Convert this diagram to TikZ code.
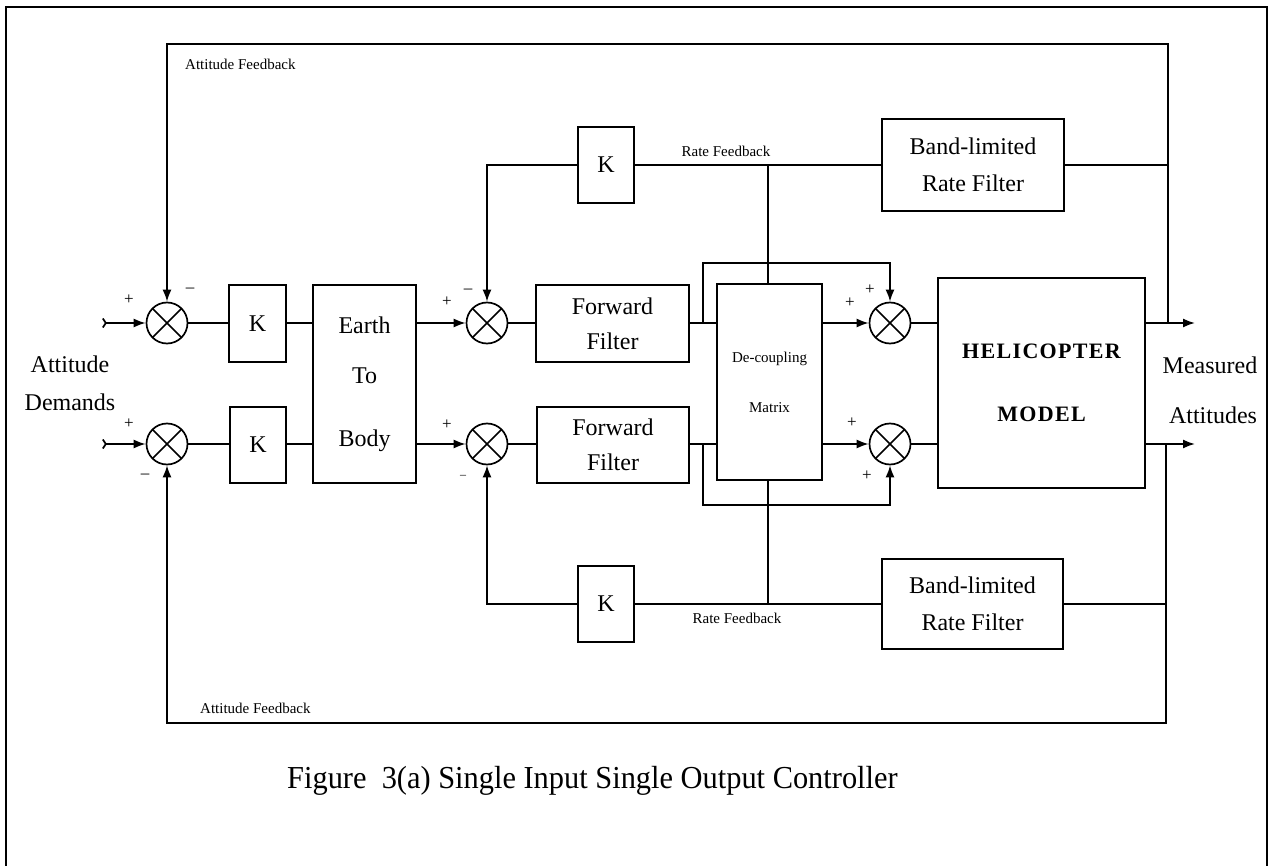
\documentclass[tikz,border=0pt]{standalone}
\usepackage{fontspec}
\setmainfont{Liberation Serif}
\usetikzlibrary{arrows.meta,calc}
\begin{document}
\begin{tikzpicture}[x=1pt,y=-1pt,
  blk/.style={draw, line width=1.6pt, inner sep=0pt, align=center, font=\fontsize{24}{29}\selectfont},
  sumj/.style={draw, circle, line width=1.7pt, minimum size=41pt, inner sep=0pt,
    path picture={\draw[line width=1.6pt] (path picture bounding box.north west) -- (path picture bounding box.south east)
      (path picture bounding box.north east) -- (path picture bounding box.south west);}},
  wire/.style={line width=1.7pt},
  arr/.style={wire, -{Latex[length=12pt,width=9pt]}},
  inarr/.style={wire, {Straight Barb[reversed,length=3pt,width=9pt]}-{Latex[length=12pt,width=9pt]}},
  bigtxt/.style={inner sep=0pt, anchor=base, font=\fontsize{24}{29}\selectfont},
  small/.style={inner sep=0pt, anchor=base, font=\fontsize{15}{18}\selectfont},
  sgn/.style={inner sep=0pt, font=\fontsize{17}{20}\selectfont},
  frame/.style={line width=2pt}]
\useasboundingbox (0,0) rectangle (1273,866);

% outer frame (open at bottom)
\coordinate (ob1) at (6,866);
\coordinate (ot1) at (6,7);
\coordinate (ot2) at (1267,7);
\coordinate (ob2) at (1267,866);
\draw[frame] (ob1) -- (ot1) -- (ot2) -- (ob2);

% summing junctions
\node[sumj] (s1) at (167,323) {};
\node[sumj] (s2) at (167,444) {};
\node[sumj] (s3) at (487,323) {};
\node[sumj] (s4) at (487,444) {};
\node[sumj] (s5) at (890,323) {};
\node[sumj] (s6) at (890,444) {};

% blocks
\node[blk, minimum width=57pt, minimum height=77pt] (k1) at (257.5,323.5) {K};
\node[blk, minimum width=56pt, minimum height=76pt] (k2) at (258,445) {K};
\node[blk, minimum width=103pt, minimum height=198pt] (e2b) at (364.5,384) {Earth\\[21pt]To\\[34pt]Body};
\node[blk, minimum width=153pt, minimum height=77pt] (ff1) at (612.5,323.5) {Forward\\[6pt]Filter};
\node[blk, minimum width=152pt, minimum height=76pt] (ff2) at (613,445) {Forward\\[6pt]Filter};
\node[blk, minimum width=105pt, minimum height=196pt, font=\fontsize{15}{18}\selectfont] (dm) at (769.5,382) {De-coupling\\[32pt]Matrix};
\node[blk, minimum width=56pt, minimum height=76pt] (k3) at (606,165) {K};
\node[blk, minimum width=56pt, minimum height=76pt] (k4) at (606,604) {K};
\node[blk, minimum width=182pt, minimum height=92pt] (bl1) at (973,165) {Band-limited\\[8pt]Rate Filter};
\node[blk, minimum width=181pt, minimum height=90pt] (bl2) at (972.5,604) {Band-limited\\[8pt]Rate Filter};
\node[blk, minimum width=207pt, minimum height=210pt, font=\fontsize{22}{27}\selectfont\bfseries\addfontfeature{LetterSpace=6}] (heli) at (1041.5,383) {HELICOPTER\\[36pt]MODEL};

% texts
\node[bigtxt] (ad1) at (70,372) {Attitude};
\node[bigtxt] (ad2) at (70,410) {Demands};
\node[bigtxt] (ma1) at (1210,373) {Measured};
\node[bigtxt] (ma2) at (1213,423) {Attitudes};
\node[small, anchor=base west] (af1) at (185,70) {Attitude Feedback};
\node[small, anchor=base west] (af2) at (200,713) {Attitude Feedback};
\node[small] (rf1) at (726,157) {Rate Feedback};
\node[small] (rf2) at (737,623) {Rate Feedback};
\node[inner sep=0pt, anchor=base west, font=\fontsize{32}{38}\selectfont] (cap) at (287,788)
  {\scalebox{0.95}[1]{Figure\ \ 3(a) Single Input Single Output Controller}};

% signs
\node[sgn] (p1) at (129,300) {+};
\node[sgn] (m1) at (190,290) {\textendash};
\node[sgn] (p2) at (129,424) {+};
\node[sgn] (m2) at (145,476) {\textendash};
\node[sgn] (p3) at (447,302) {+};
\node[sgn] (m3) at (468,291) {\textendash};
\node[sgn] (p4) at (447,425) {+};
\node[sgn, font=\fontsize{12}{14}\selectfont] (m4) at (463,477) {\textendash};
\node[sgn] (p5) at (850,303) {+};
\node[sgn] (p6) at (870,290) {+};
\node[sgn] (p7) at (852,423) {+};
\node[sgn] (p8) at (867,476) {+};

% inputs
\coordinate (in1) at (102,323);
\coordinate (in2) at (102,444);
\draw[inarr] (in1) -- (s1.west);
\draw[inarr] (in2) -- (s2.west);

% forward path top
\draw[wire] (s1.east) -- (s1 -| k1.west);
\draw[wire] (s1 -| k1.east) -- (s1 -| e2b.west);
\draw[arr] (s3 -| e2b.east) -- (s3.west);
\draw[wire] (s3.east) -- (s3 -| ff1.west);
\draw[wire] (s3 -| ff1.east) -- (s3 -| dm.west);
\draw[arr] (s5 -| dm.east) -- (s5.west);
\draw[wire] (s5.east) -- (s5 -| heli.west);
\coordinate (o1) at (1195,323);
\draw[arr] (s5 -| heli.east) -- (o1);

% forward path bottom
\draw[wire] (s2.east) -- (s2 -| k2.west);
\draw[wire] (s2 -| k2.east) -- (s2 -| e2b.west);
\draw[arr] (s4 -| e2b.east) -- (s4.west);
\draw[wire] (s4.east) -- (s4 -| ff2.west);
\draw[wire] (s4 -| ff2.east) -- (s4 -| dm.west);
\draw[arr] (s6 -| dm.east) -- (s6.west);
\draw[wire] (s6.east) -- (s6 -| heli.west);
\coordinate (o2) at (1195,444);
\draw[arr] (s6 -| heli.east) -- (o2);

% cross-coupling branches
\coordinate (b1) at (703,323);
\coordinate (u1) at (703,263);
\draw[arr] (b1) -- (u1) -| (s5.north);
\coordinate (b2) at (703,444);
\coordinate (u2) at (703,505);
\draw[arr] (b2) -- (u2) -| (s6.south);

% rate feedback top
\coordinate (r1) at (768,165);
\draw[wire] (dm.north -| r1) -- (r1);
\draw[wire] (bl1.west) -- (k3.east);
\draw[arr] (k3.west) -| (s3.north);
\coordinate (j1) at (1168,165);
\draw[wire] (bl1.east) -- (j1);

% rate feedback bottom
\coordinate (r2) at (768,604);
\draw[wire] (dm.south -| r2) -- (r2);
\draw[wire] (bl2.west) -- (k4.east);
\draw[arr] (k4.west) -| (s4.south);
\coordinate (j2) at (1166,604);
\draw[wire] (bl2.east) -- (j2);

% attitude feedback loops
\coordinate (oj1) at (1168,323);
\coordinate (tr) at (1168,44);
\coordinate (tl) at (167,44);
\draw[arr] (oj1) -- (tr) -- (tl) -- (s1.north);
\coordinate (oj2) at (1166,444);
\coordinate (br) at (1166,723);
\coordinate (bl) at (167,723);
\draw[arr] (oj2) -- (br) -- (bl) -- (s2.south);
\end{tikzpicture}
\end{document}
